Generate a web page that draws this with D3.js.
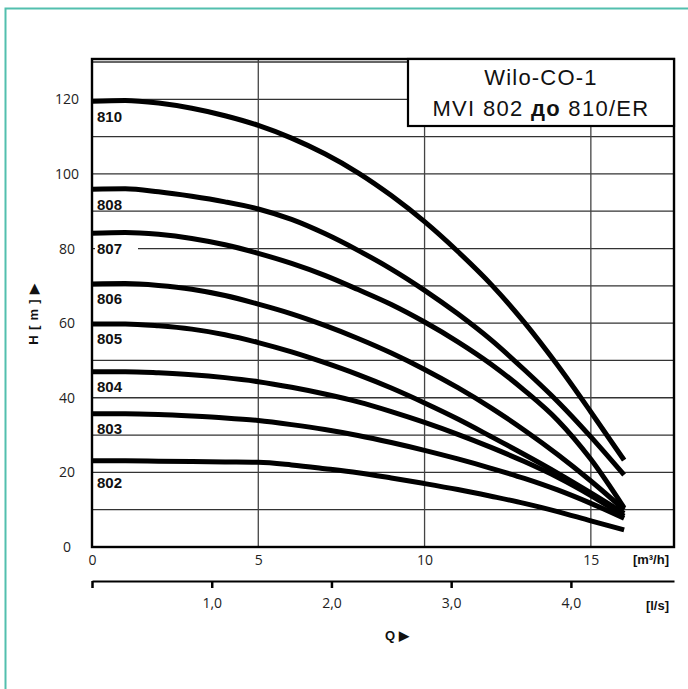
<!DOCTYPE html>
<html>
<head>
<meta charset="utf-8">
<script src="https://cdn.jsdelivr.net/npm/d3@7"></script>
<style>
    body { margin: 0; background: #fff; }
    svg { display: block; }
    .num { font-family: "Open Sans", sans-serif; font-size: 14px; fill: #222; }
    .bold { font-family: "Liberation Sans", Arial, sans-serif; font-weight: bold; fill: #111; }
</style>
</head>
<body>
<svg width="688" height="689"></svg>
<script>

    // Data: flow Q in m3/h, head H in m per pump type
    var flow = [0, 1, 2, 3, 4, 5, 6, 7, 8, 9, 10, 11, 12, 13, 14, 15, 16];
    var h810 = [119.5, 119.7, 119.0, 117.6, 115.6, 113.0, 109.6, 105.4, 100.3, 94.2, 87.2, 79.2, 70.4, 60.2, 48.7, 36.2, 23.3];
    var h808 = [95.9, 96, 95.2, 94, 92.5, 90.6, 87.8, 84, 79.5, 74.5, 68.8, 62.5, 55.5, 47.5, 39, 29.5, 19.3];
    var h807 = [84.1, 84.3, 83.8, 82.7, 81, 78.7, 76, 72.8, 69, 65, 60.3, 55, 49, 42, 34, 23.5, 10.5];
    var h806 = [70.5, 70.6, 70.1, 69.1, 67.4, 65.1, 62.5, 59.4, 55.9, 52, 47.6, 42.7, 37.3, 31.3, 24.8, 17.7, 10];
    var h805 = [59.8, 59.8, 59.3, 58.4, 56.9, 54.8, 52.3, 49.4, 46.2, 42.6, 38.6, 34.3, 29.6, 24.8, 19.8, 14.5, 9];
    var h804 = [47, 47, 46.7, 46.2, 45.4, 44.3, 42.8, 41, 38.9, 36.3, 33.4, 30.2, 26.7, 22.9, 18.7, 13.8, 8.3];
    var h803 = [35.7, 35.7, 35.5, 35.1, 34.6, 33.9, 32.8, 31.5, 29.9, 28, 25.9, 23.6, 21.1, 18.4, 15.3, 11.7, 7.7];
    var h802 = [23.1, 23.1, 23.0, 22.9, 22.8, 22.7, 22.0, 21.0, 19.9, 18.5, 17, 15.4, 13.6, 11.7, 9.5, 7.0, 4.6];

    var names = ["810", "808", "807", "806", "805", "804", "803", "802"];
    var heads = [h810, h808, h807, h806, h805, h804, h803, h802];

    var yTicks = [0, 20, 40, 60, 80, 100, 120];
    var xTicks = [0, 5, 10, 15];
    var lsTicks = [0, 1, 2, 3, 4];

    var svg = d3.select("svg");

    // Teal frame round the whole figure
    svg.append("path")
        .attr("d", "M5.5,700V8.5H700")
        .attr("fill", "none")
        .attr("stroke", "#52bfae")
        .attr("stroke-width", 2);

    var pL = 92, pR = 674, pT = 59, pB = 547;

    var x = d3.scaleLinear().domain([0, 17.5]).range([pL, pR]);
    var y = d3.scaleLinear().domain([0, 130.8]).range([pB, pT]);
    var ls = d3.scaleLinear().domain([0, 17.5 / 3.6]).range([pL, pR]);

    // Grid
    var gridH = d3.range(10, 131, 10);
    var grid = svg.append("g");
    grid.selectAll(".hl")
        .data(gridH)
        .enter().append("line")
            .attr("x1", pL).attr("x2", pR)
            .attr("y1", function(d) { return y(d); })
            .attr("y2", function(d) { return y(d); })
            .attr("stroke", "#333")
            .attr("stroke-width", 1.3);
    grid.selectAll(".vl")
        .data(xTicks.slice(1))
        .enter().append("line")
            .attr("y1", pT).attr("y2", pB)
            .attr("x1", function(d) { return x(d); })
            .attr("x2", function(d) { return x(d); })
            .attr("stroke", "#444")
            .attr("stroke-width", 1.3);

    // Curve labels: just under the curve start; pushed below a grid line that
    // would cut their top, or given a white box when a line runs through them
    var gridPx = gridH.map(function(d) { return y(d); });
    var labels = svg.append("g");
    names.forEach(function(n, i) {
        var by = y(heads[i][0]) + 20.5;
        gridPx.forEach(function(g) {
            if (g > by - 12 && g < by - 7) by = g + 15.5;
        });
        var hit = gridPx.some(function(g) { return g > by - 11 && g < by - 1; });
        if (hit) {
            labels.append("rect")
                .attr("x", pL + 3).attr("y", by - 13)
                .attr("width", 43).attr("height", 16)
                .attr("fill", "#fff");
        }
        labels.append("text")
            .attr("class", "bold")
            .attr("x", pL + 5)
            .attr("y", by)
            .attr("font-size", 15)
            .text(n);
    });

    // Pump curves
    svg.append("clipPath").attr("id", "plot")
        .append("rect").attr("x", pL).attr("y", pT)
        .attr("width", pR - pL).attr("height", pB - pT);

    var line = d3.line()
        .x(function(d) { return x(d[0]); })
        .y(function(d) { return y(d[1]); })
        .curve(d3.curveMonotoneX);

    svg.append("g").attr("clip-path", "url(#plot)")
        .selectAll("path")
        .data(heads)
        .enter().append("path")
            .attr("d", function(h) { return line(flow.map(function(q, i) { return [q, h[i]]; })); })
            .attr("fill", "none")
            .attr("stroke", "#000")
            .attr("stroke-width", 5);

    // Plot frame
    svg.append("rect")
        .attr("x", pL).attr("y", pT)
        .attr("width", pR - pL).attr("height", pB - pT)
        .attr("fill", "none")
        .attr("stroke", "#000")
        .attr("stroke-width", 2.4);

    // Title box
    var tb = svg.append("g");
    tb.append("rect")
        .attr("x", 408).attr("y", pT)
        .attr("width", pR - 408).attr("height", 67)
        .attr("fill", "#fff")
        .attr("stroke", "#000")
        .attr("stroke-width", 2.2);
    tb.append("text")
        .attr("x", 541).attr("y", 85)
        .attr("text-anchor", "middle")
        .attr("font-family", "'Liberation Sans', Arial, sans-serif")
        .attr("font-size", 22)
        .attr("letter-spacing", 1.2)
        .attr("fill", "#111")
        .text("Wilo-CO-1");
    var t2 = tb.append("text")
        .attr("x", 541).attr("y", 115.5)
        .attr("text-anchor", "middle")
        .attr("font-family", "'Liberation Sans', Arial, sans-serif")
        .attr("font-size", 22)
        .attr("letter-spacing", 1.3)
        .attr("fill", "#111");
    t2.append("tspan").text("MVI 802 ");
    t2.append("tspan").attr("font-weight", "bold").text("до");
    t2.append("tspan").text(" 810/ER");

    // Y axis labels
    var yAxis = svg.append("g")
        .attr("transform", "translate(" + pL + ",0)")
        .call(d3.axisLeft(y).tickValues(yTicks).tickSize(0));
    yAxis.select(".domain").remove();
    yAxis.selectAll("text")
        .attr("class", "num")
        .attr("x", -25)
        .attr("text-anchor", "middle");
    yAxis.attr("font-family", null).attr("font-size", null);

    svg.append("text")
        .attr("class", "bold")
        .attr("transform", "translate(38,314) rotate(-90)")
        .attr("text-anchor", "middle")
        .attr("font-size", 13)
        .attr("letter-spacing", 0.8)
        .text("H [ m ] \u25B6");

    // X axis (m3/h) labels
    var xAxis = svg.append("g")
        .attr("transform", "translate(0," + pB + ")")
        .call(d3.axisBottom(x).tickValues(xTicks).tickSize(0));
    xAxis.select(".domain").remove();
    xAxis.selectAll("text")
        .attr("class", "num")
        .attr("y", 8);
    xAxis.attr("font-family", null).attr("font-size", null);

    svg.append("text")
        .attr("class", "bold")
        .attr("x", 669).attr("y", 564)
        .attr("text-anchor", "end")
        .attr("font-size", 13)
        .text("[m\u00B3/h]");

    // Second axis in l/s
    var lsAxis = svg.append("g")
        .attr("transform", "translate(0,581)")
        .call(d3.axisBottom(ls).tickValues(lsTicks).tickSize(7).tickSizeOuter(0)
            .tickFormat(function(d) { return d ? d.toFixed(1).replace(".", ",") : ""; }));
    lsAxis.attr("font-family", null).attr("font-size", null);
    lsAxis.select(".domain")
        .attr("stroke", "#000")
        .attr("stroke-width", 2.2);
    lsAxis.selectAll(".tick line")
        .attr("stroke", "#000")
        .attr("stroke-width", 2.5);
    lsAxis.selectAll("text")
        .attr("class", "num")
        .attr("y", 17);

    svg.append("text")
        .attr("class", "bold")
        .attr("x", 669).attr("y", 610)
        .attr("text-anchor", "end")
        .attr("font-size", 13)
        .text("[l/s]");

    svg.append("text")
        .attr("class", "bold")
        .attr("x", 385).attr("y", 640)
        .attr("font-size", 13)
        .text("Q \u25B6");

</script>
</body>
</html>
